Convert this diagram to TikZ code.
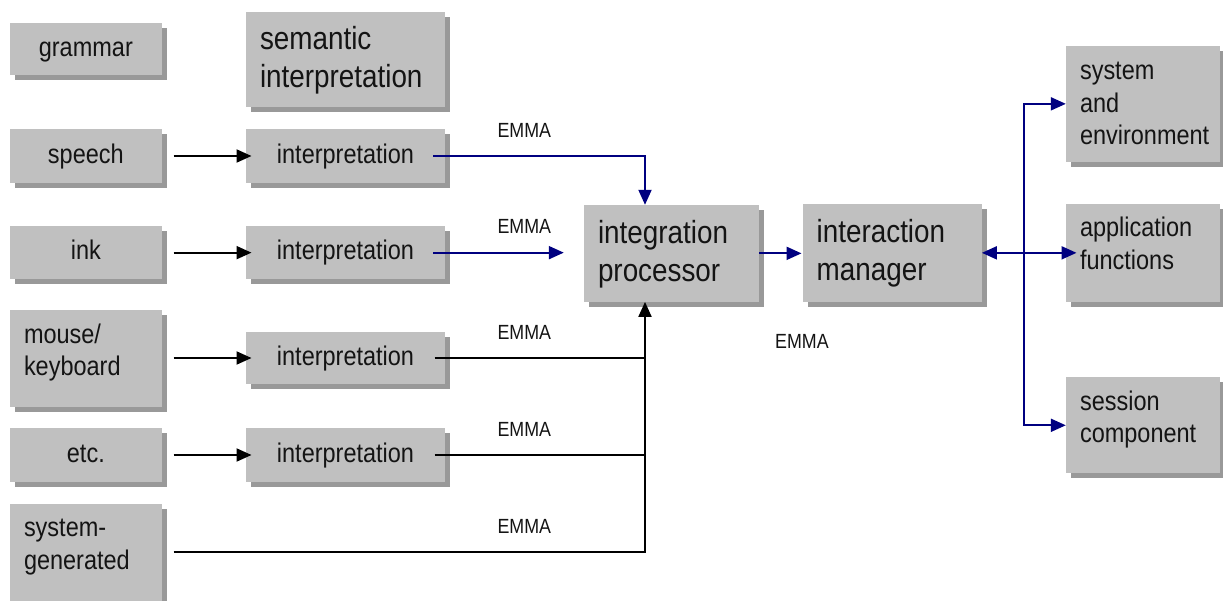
\documentclass[tikz,border=0pt]{standalone}
\usepackage{fontspec}
\setmainfont{Liberation Sans}[FakeStretch=0.87]
\usetikzlibrary{arrows.meta,calc,shadows}
\definecolor{boxgray}{HTML}{C0C0C0}
\definecolor{shadowgray}{HTML}{999999}
\definecolor{navyline}{HTML}{000080}
\definecolor{textcol}{HTML}{141414}
\newcommand{\smallfont}{\fontsize{27}{32.4}\selectfont}
\newcommand{\largefont}{\fontsize{32}{38}\selectfont}
\newcommand{\emmafont}{\fontsize{20.5}{24}\selectfont}
\tikzset{
  box/.style={fill=boxgray, text=textcol, inner ysep=0pt, inner xsep=14pt, font=\smallfont,
    drop shadow={shadow xshift=5pt, shadow yshift=-5pt, fill=shadowgray, opacity=1}},
  bigbox/.style={box, font=\largefont},
  emma/.style={anchor=base west, inner sep=0pt, text=textcol, font=\emmafont},
  blk/.style={line width=2pt, black},
  blkarrow/.style={blk, -{Triangle[length=15pt,width=13pt]}},
  blu/.style={line width=2pt, navyline},
  bluarrow/.style={blu, -{Triangle[length=15pt,width=13pt]}},
}
\begin{document}
\begin{tikzpicture}[x=1pt,y=-1pt]
\useasboundingbox (0,0) rectangle (1223,601);
\clip (0,0) rectangle (1223,601);
% left column
\node[box, align=center, text width=123.7pt, text height=34pt, text depth=18.3pt] (grammar) at (85.85,48.85) {grammar};
\node[box, align=center, text width=123.7pt, text height=34pt, text depth=19.4pt] (speech) at (85.85,156) {speech};
\node[box, align=center, text width=123.7pt, text height=33.3pt, text depth=20pt] (ink) at (85.85,252.65) {ink};
\node[box, align=left, text width=123.7pt, text height=33.3pt, text depth=63.4pt] (mouse) at (85.85,358.35) {mouse/\\keyboard};
\node[box, align=center, text width=123.7pt, text height=34pt, text depth=19.4pt] (etc) at (85.85,455) {etc.};
\node[box, align=left, text width=123.7pt, text height=32.7pt, text depth=64pt] (sysgen) at (85.85,552.35) {system-\\generated};
% interpretation column
\node[bigbox, align=left, text width=171pt, text height=38.3pt, text depth=57.3pt] (semantic) at (345.5,59.5) {semantic\\interpretation};
\node[box, align=center, text width=171pt, text height=34pt, text depth=19.4pt] (i1) at (345.5,156) {interpretation};
\node[box, align=center, text width=171pt, text height=33.3pt, text depth=20pt] (i2) at (345.5,252.65) {interpretation};
\node[box, align=center, text width=171pt, text height=33.6pt, text depth=19pt] (i3) at (345.5,358) {interpretation};
\node[box, align=center, text width=171pt, text height=34pt, text depth=19.4pt] (i4) at (345.5,455) {interpretation};
% centre
\node[bigbox, align=left, text width=147pt, text height=38.3pt, text depth=58.4pt] (integ) at (671.5,253.35) {integration\\processor};
\node[bigbox, align=left, text width=151pt, text height=38.7pt, text depth=59pt] (interact) at (892.2,252.85) {interaction\\manager};
% right column
\node[box, align=left, text width=126pt, text height=34pt, text depth=81.7pt] (sysenv) at (1143,103.85) {system\\and\\environment};
\node[box, align=left, text width=126pt, text height=32.7pt, text depth=65pt] (app) at (1143,252.85) {application\\functions};
\node[box, align=left, text width=126pt, text height=32.7pt, text depth=63.3pt] (session) at (1143,425.3) {session\\component};
% EMMA labels
\node[emma] (e1) at (497.3,137.5) {EMMA};
\node[emma] (e2) at (497.3,234) {EMMA};
\node[emma] (e3) at (497.3,340) {EMMA};
\node[emma] (e4) at (497.3,436) {EMMA};
\node[emma] (e5) at (497.3,533.3) {EMMA};
\node[emma] (e6) at (775,348.3) {EMMA};
% junction coordinates
\coordinate (jx) at (645,0);
\coordinate (bx) at (1024,0);
% input arrows
\draw[blkarrow] ($(speech.east)+(11.7,0)$) -- ($(i1.west)+(5.7,0)$);
\draw[blkarrow] ($(ink.east)+(11.7,0)$) -- ($(i2.west)+(5.7,0)$);
\draw[blkarrow] ($(mouse.east |- i3.west)+(11.7,0)$) -- ($(i3.west)+(5.7,0)$);
\draw[blkarrow] ($(etc.east)+(11.7,0)$) -- ($(i4.west)+(5.7,0)$);
% EMMA connectors
\draw[bluarrow] ($(i1.east)+(-12,0)$) -| (jx |- integ.north);
\draw[bluarrow] ($(i2.east)+(-12,0)$) -- ($(i2.east -| integ.west)+(-20,0)$);
\draw[blk] ($(i3.east)+(-10.5,0)$) -- (i3.east -| jx);
\draw[blk] ($(i4.east)+(-10.5,0)$) -- (i4.east -| jx);
\draw[blkarrow] ($(sysgen.east)+(11.7,-0.65)$) -| (jx |- integ.south);
\draw[bluarrow] (integ.east) -- ($(integ.east -| interact.west)+(-1,0)$);
% right side
\draw[blu, {Triangle[length=15pt,width=13pt]}-{Triangle[length=15pt,width=13pt]}] (interact.east) -- ($(interact.east -| app.west)+(10.7,0)$);
\draw[bluarrow] (bx |- interact.east) |- (sysenv.west);
\draw[bluarrow] (bx |- interact.east) |- (session.west);
\end{tikzpicture}
\end{document}
